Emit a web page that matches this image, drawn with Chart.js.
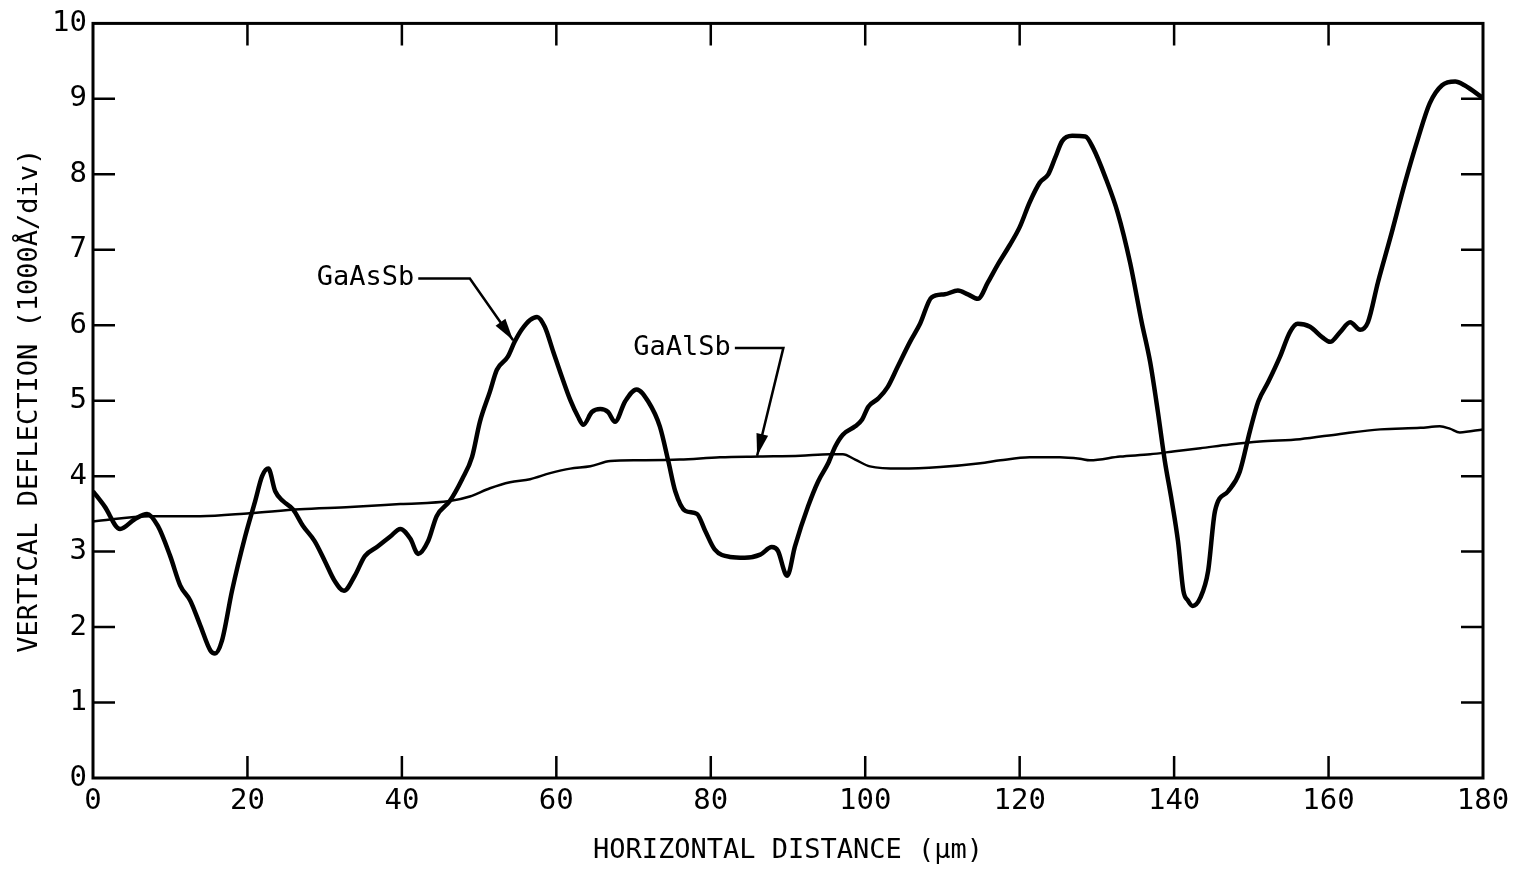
<!DOCTYPE html>
<html>
<head>
<meta charset="utf-8">
<script src="https://cdn.jsdelivr.net/npm/chart.js@4"></script>
<style>
  html, body { margin: 0; padding: 0; background: #fff; }
  #wrap { width: 1526px; height: 870px; }
</style>
</head>
<body>
<div id="wrap"><canvas id="profile" width="1526" height="870"></canvas></div>
<script>
// GaAsSb trace (horizontal distance in um, vertical deflection in div)
const gaAsSbX = [0, 1.5, 3.5, 5.4, 7, 8.4, 10, 11.3, 12.6, 13.9, 15.2, 15.8, 16.7, 18, 19.7, 21, 21.9, 22.7, 23.6, 24.6, 25.9, 27.2, 28.7, 30, 31.3, 32.5, 33.9, 35.2, 36.9, 38.5, 39.8, 41.1, 42.1, 43.4, 44.5, 46.2, 47.8, 49.1, 50.1, 51.4, 52.3, 53.7, 54.6, 55.5, 56.6, 57.5, 58.5, 59.6, 60.7, 61.8, 62.8, 63.5, 64.6, 65.7, 66.7, 67.6, 68.9, 70.4, 71.9, 73.4, 74.5, 75.4, 76.7, 78.2, 79.3, 80.5, 82.5, 84.4, 86.4, 87.9, 88.7, 89.6, 89.9, 90.9, 92.6, 93.9, 95.2, 96.1, 97.1, 98.7, 99.6, 100.4, 101.7, 102.9, 104.2, 105.8, 107.1, 108.6, 110.3, 112, 113.3, 114.6, 115.9, 117.2, 118.7, 120, 121.3, 122.6, 123.7, 124.6, 125.5, 126.8, 128.5, 129.5, 131.1, 132.7, 134.3, 135.8, 136.9, 137.9, 138.8, 139.7, 140.5, 141.2, 141.8, 142.4, 143.4, 144.4, 145.3, 147, 148.5, 149.8, 150.9, 152.2, 153.7, 155, 156, 157.6, 159.2, 160.2, 161.5, 162.8, 164.1, 165.1, 166.4, 168, 169.9, 171.6, 173.1, 174.7, 176.4, 177.6, 180];
const gaAsSbY = [3.8, 3.6, 3.3, 3.43, 3.5, 3.34, 2.94, 2.55, 2.35, 2.02, 1.69, 1.65, 1.82, 2.48, 3.2, 3.67, 4.0, 4.1, 3.8, 3.67, 3.56, 3.34, 3.14, 2.88, 2.61, 2.48, 2.68, 2.94, 3.07, 3.2, 3.3, 3.17, 2.97, 3.14, 3.47, 3.67, 3.96, 4.26, 4.72, 5.12, 5.41, 5.58, 5.78, 5.94, 6.07, 6.11, 5.98, 5.65, 5.32, 5.01, 4.79, 4.68, 4.85, 4.89, 4.85, 4.72, 4.99, 5.15, 4.99, 4.66, 4.2, 3.8, 3.54, 3.5, 3.27, 3.03, 2.93, 2.92, 2.96, 3.06, 3.01, 2.72, 2.68, 3.07, 3.6, 3.93, 4.17, 4.39, 4.55, 4.66, 4.75, 4.92, 5.03, 5.18, 5.45, 5.78, 6.02, 6.37, 6.41, 6.46, 6.41, 6.35, 6.57, 6.81, 7.06, 7.3, 7.63, 7.89, 8.0, 8.22, 8.44, 8.51, 8.5, 8.35, 7.96, 7.49, 6.83, 6.04, 5.51, 4.85, 4.2, 3.67, 3.14, 2.48, 2.35, 2.28, 2.39, 2.74, 3.54, 3.8, 4.06, 4.59, 4.99, 5.25, 5.58, 5.91, 6.02, 5.98, 5.84, 5.78, 5.91, 6.04, 5.94, 6.04, 6.57, 7.16, 7.89, 8.48, 8.94, 9.18, 9.23, 9.18, 9.01];

// GaAlSb trace
const gaAlSbX = [0, 7.4, 13.9, 20.3, 26.8, 33.3, 39.8, 46.2, 48.8, 51.4, 54, 56.6, 59.2, 61.8, 64.4, 67, 70.8, 76, 81.2, 86.4, 91.6, 95.4, 97.1, 98.7, 100.6, 104.5, 109.7, 114.9, 117.5, 121.3, 125.2, 127.8, 129.1, 133, 136.9, 140.1, 143.4, 147.2, 151.1, 156.3, 161.5, 166.7, 171.9, 174.4, 175.7, 177, 180];
const gaAlSbY = [3.4, 3.47, 3.47, 3.51, 3.56, 3.59, 3.63, 3.67, 3.73, 3.84, 3.92, 3.96, 4.04, 4.1, 4.13, 4.2, 4.21, 4.22, 4.25, 4.26, 4.27, 4.29, 4.29, 4.22, 4.13, 4.1, 4.12, 4.17, 4.21, 4.25, 4.25, 4.23, 4.21, 4.26, 4.29, 4.33, 4.37, 4.42, 4.46, 4.49, 4.56, 4.62, 4.64, 4.66, 4.63, 4.58, 4.62];

const xTicks = [0, 20, 40, 60, 80, 100, 120, 140, 160, 180];
const yTicks = [0, 1, 2, 3, 4, 5, 6, 7, 8, 9, 10];

// labels with leader lines: [text, text end x, y, bend x, arrow tip x, tip y]
const callouts = [
    ['GaAsSb', 41.6, 6.62, 48.8, 54.4, 5.8],
    ['GaAlSb', 82.6, 5.7, 89.4, 86.0, 4.27]
];

const FONT = '"DejaVu Sans Mono", monospace';

const toPoints = (xs, ys) => xs.map((x, i) => ({ x, y: ys[i] }));

const frameAndTicks = {
    id: 'frameAndTicks',
    afterDraw(chart) {
        const { ctx, chartArea: { left, top, right, bottom }, scales: { x, y } } = chart;
        ctx.save();
        ctx.strokeStyle = '#000';
        ctx.lineWidth = 3;
        ctx.strokeRect(left, top, right - left, bottom - top);
        ctx.lineWidth = 2.5;
        const len = 22;
        ctx.beginPath();
        xTicks.slice(1, -1).forEach(v => {
            const px = x.getPixelForValue(v);
            ctx.moveTo(px, bottom); ctx.lineTo(px, bottom - len);
            ctx.moveTo(px, top); ctx.lineTo(px, top + len);
        });
        yTicks.slice(1, -1).forEach(v => {
            const py = y.getPixelForValue(v);
            ctx.moveTo(left, py); ctx.lineTo(left + len, py);
            ctx.moveTo(right, py); ctx.lineTo(right - len, py);
        });
        ctx.stroke();

        // callouts
        ctx.font = '27px ' + FONT;
        ctx.fillStyle = '#000';
        ctx.textAlign = 'right';
        ctx.textBaseline = 'middle';
        ctx.lineWidth = 2.5;
        callouts.forEach(([txt, tx, ty, bx, ax, ay]) => {
            const x0 = x.getPixelForValue(tx), y0 = y.getPixelForValue(ty);
            const x1 = x.getPixelForValue(bx);
            const x2 = x.getPixelForValue(ax), y2 = y.getPixelForValue(ay);
            ctx.fillText(txt, x0, y0);
            ctx.beginPath();
            ctx.moveTo(x0 + 4, y0);
            ctx.lineTo(x1, y0);
            ctx.lineTo(x2, y2);
            ctx.stroke();
            const ang = Math.atan2(y2 - y0, x2 - x1);
            const hl = 22, hw = 6;
            ctx.beginPath();
            ctx.moveTo(x2, y2);
            ctx.lineTo(x2 - hl * Math.cos(ang) + hw * Math.sin(ang), y2 - hl * Math.sin(ang) - hw * Math.cos(ang));
            ctx.lineTo(x2 - hl * Math.cos(ang) - hw * Math.sin(ang), y2 - hl * Math.sin(ang) + hw * Math.cos(ang));
            ctx.closePath();
            ctx.fill();
        });
        ctx.restore();
    }
};

new Chart(document.getElementById('profile'), {
    type: 'line',
    plugins: [frameAndTicks],
    data: {
        datasets: [
            {
                label: 'GaAsSb',
                data: toPoints(gaAsSbX, gaAsSbY),
                borderColor: '#000',
                borderWidth: 4.5,
                pointRadius: 0,
                cubicInterpolationMode: 'monotone'
            },
            {
                label: 'GaAlSb',
                data: toPoints(gaAlSbX, gaAlSbY),
                borderColor: '#000',
                borderWidth: 2.5,
                pointRadius: 0,
                cubicInterpolationMode: 'monotone'
            }
        ]
    },
    options: {
        responsive: false,
        animation: false,
        layout: { padding: { top: 20, right: 43, left: 0, bottom: 0 } },
        plugins: { legend: { display: false }, tooltip: { enabled: false } },
        scales: {
            x: {
                type: 'linear',
                min: 0, max: 180,
                afterBuildTicks: s => { s.ticks = xTicks.map(v => ({ value: v })); },
                afterFit: s => { s.height = 92; },
                grid: { display: false, drawTicks: false },
                border: { display: false },
                ticks: { color: '#000', padding: 6, font: { family: FONT, size: 29 }, maxRotation: 0 },
                title: {
                    display: true,
                    text: 'HORIZONTAL DISTANCE (μm)',
                    color: '#000',
                    font: { family: FONT, size: 27 },
                    padding: { top: 0, bottom: 3 }
                }
            },
            y: {
                min: 0, max: 10,
                afterBuildTicks: s => { s.ticks = yTicks.map(v => ({ value: v })); },
                afterFit: s => { s.width = 93; },
                grid: { display: false, drawTicks: false },
                border: { display: false },
                ticks: { color: '#000', padding: 6, font: { family: FONT, size: 29 } },
                title: {
                    display: true,
                    text: 'VERTICAL DEFLECTION (1000Å/div)',
                    color: '#000',
                    font: { family: FONT, size: 27 },
                    padding: { top: 14, bottom: 0 }
                }
            }
        }
    }
});
</script>
</body>
</html>
